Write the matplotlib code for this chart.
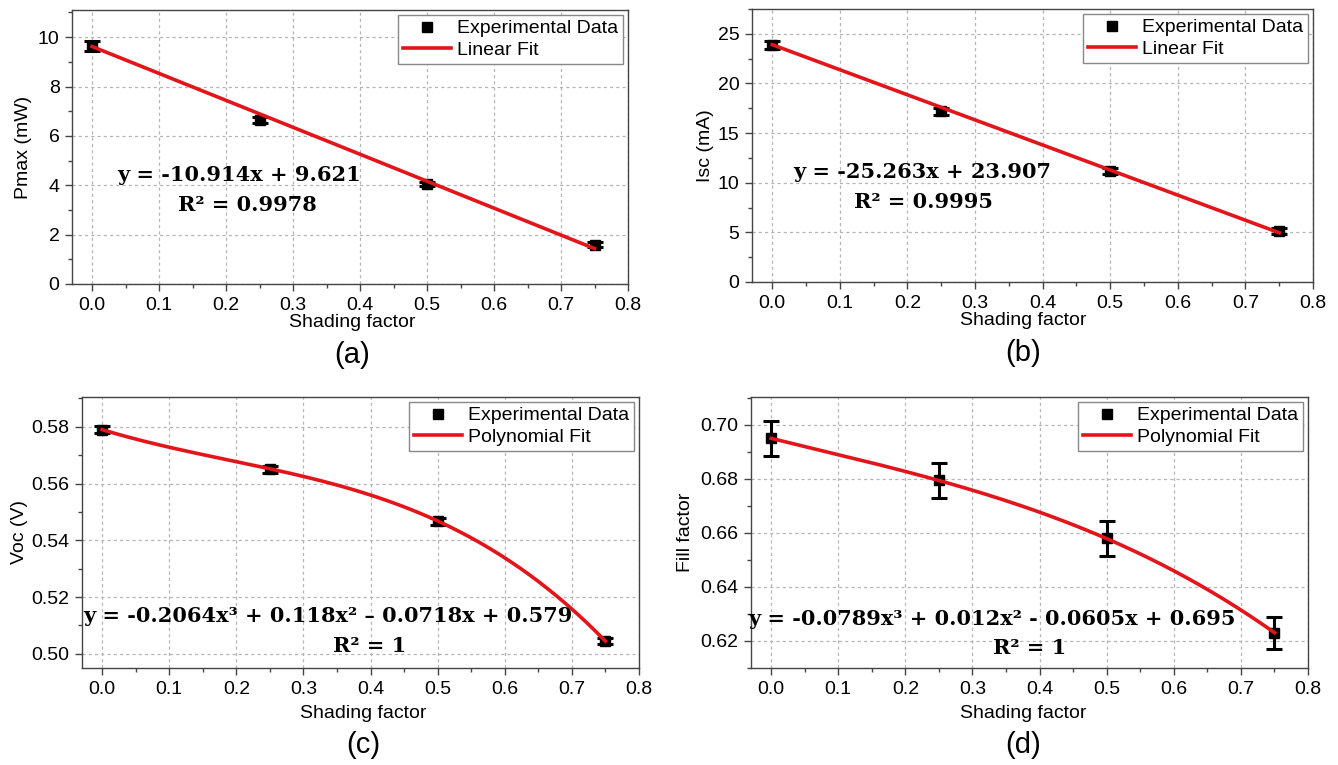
import numpy as np
import matplotlib
matplotlib.use("Agg")
import matplotlib.pyplot as plt
from matplotlib.ticker import MultipleLocator, AutoMinorLocator, FormatStrFormatter

plt.rcParams['font.family'] = ['Liberation Sans', 'DejaVu Sans']

# ---------------- data ----------------
shading = [0.0, 0.25, 0.5, 0.75]

pmax = [9.65, 6.65, 4.05, 1.60]
pmax_err = [0.20, 0.12, 0.10, 0.10]
pmax_fit = [-10.914, 9.621]          # slope, intercept

isc = [23.9, 17.2, 11.2, 5.1]
isc_err = [0.40, 0.35, 0.30, 0.30]
isc_fit = [-25.263, 23.907]

voc = [0.579, 0.565, 0.5467, 0.5045]
voc_err = [0.0012, 0.0012, 0.0012, 0.0011]
voc_fit = [-0.2064, 0.118, -0.0718, 0.579]   # x^3, x^2, x, const

ff = [0.695, 0.6795, 0.658, 0.623]
ff_err = [0.0065, 0.0065, 0.0065, 0.006]
ff_fit = [-0.0789, 0.012, -0.0605, 0.695]

ylabels = ['Pmax (mW)', 'Isc (mA)', 'Voc (V)', 'Fill factor']
fit_names = ['Linear Fit', 'Linear Fit', 'Polynomial Fit', 'Polynomial Fit']
eq_texts = [
    ("y = -10.914x + 9.621", "R\u00b2 = 0.9978"),
    ("y = -25.263x + 23.907", "R\u00b2 = 0.9995"),
    ("y = -0.2064x\u00b3 + 0.118x\u00b2 \u2013 0.0718x + 0.579", "R\u00b2 = 1"),
    ("y = -0.0789x\u00b3 + 0.012x\u00b2 - 0.0605x + 0.695", "R\u00b2 = 1"),
]
panel_tags = ['(a)', '(b)', '(c)', '(d)']

# ---------------- layout (pixels) ----------------
W, H = 1338, 765
fig = plt.figure(figsize=(W / 100, H / 100), dpi=100)

rects = [(72, 628, 10, 284), (752, 1313, 9, 282),
         (82, 639, 397, 668), (751, 1308, 397, 668)]
ylims = [(0, 11.1), (0, 27.5), (0.495, 0.5905), (0.61, 0.7103)]
ymajor = [2, 5, 0.02, 0.02]
eq_pos = [((239, 175), (247, 205)), ((922, 172), (924, 202)),
          ((328, 616), (370, 646)), ((992, 619), (1030, 648))]
xlabel_pos = [(352, 322), (1023, 320), (363, 713), (1023, 713)]
tag_pos = [(352, 355), (1023, 353), (363, 745), (1023, 745)]
ylabel_x = [24, 705, 20, 686]

datasets = [(pmax, pmax_err, pmax_fit), (isc, isc_err, isc_fit),
            (voc, voc_err, voc_fit), (ff, ff_err, ff_fit)]

red = '#e3151b'
spine_col = '#444444'
serif = ['DejaVu Serif', 'Liberation Serif']

for i, (vals, errs, coefs) in enumerate(datasets):
    l, r, t, b = rects[i]
    ax = fig.add_axes([l / W, 1 - b / H, (r - l) / W, (b - t) / H])

    ax.errorbar(shading, vals, yerr=errs, fmt='none', ecolor='black',
                elinewidth=2.2, capsize=5.5, capthick=2.2, zorder=3)
    ax.plot(shading, vals, 's', color='black', markersize=7,
            label='Experimental Data', zorder=4)
    xf = np.linspace(0, 0.75, 200)
    yf = np.polyval(coefs, xf)
    ax.plot(xf, yf, '-', color=red, lw=2.6, label=fit_names[i], zorder=5)

    ax.set_xlim(-0.03, 0.8)
    ax.set_ylim(*ylims[i])
    ax.xaxis.set_major_locator(MultipleLocator(0.1))
    ax.xaxis.set_minor_locator(AutoMinorLocator(2))
    ax.yaxis.set_major_locator(MultipleLocator(ymajor[i]))
    ax.yaxis.set_minor_locator(AutoMinorLocator(2))
    ax.yaxis.set_major_formatter(FormatStrFormatter('%d' if i < 2 else '%.2f'))
    ax.xaxis.set_major_formatter(FormatStrFormatter('%.1f'))

    ax.grid(True, which='major', linestyle=(0, (2.5, 2.5)), color='#b5b5b5', lw=0.9)
    ax.set_axisbelow(True)
    for s in ax.spines.values():
        s.set_color(spine_col)
        s.set_linewidth(1.0)
    ax.tick_params(axis='both', which='major', direction='out', length=5,
                   width=1, color=spine_col, labelsize=14, pad=4)
    ax.tick_params(axis='both', which='minor', direction='out', length=3,
                   width=1, color=spine_col)

    leg = ax.legend(loc='upper right', fontsize=14, frameon=True,
                    fancybox=False, framealpha=1, edgecolor='#888888',
                    borderaxespad=0.25, handlelength=2.5, handletextpad=0.3,
                    borderpad=0.25, labelspacing=0.2)
    leg.get_frame().set_linewidth(1.0)

    fig.text(xlabel_pos[i][0] / W, 1 - xlabel_pos[i][1] / H, 'Shading factor',
             ha='center', va='center', fontsize=14)
    fig.text(ylabel_x[i] / W, 1 - ((t + b) / 2) / H, ylabels[i],
             ha='center', va='center', rotation=90, fontsize=14)
    fig.text(tag_pos[i][0] / W, 1 - tag_pos[i][1] / H, panel_tags[i],
             ha='center', va='center', fontsize=21)

    (e1x, e1y), (e2x, e2y) = eq_pos[i]
    fig.text(e1x / W, 1 - e1y / H, eq_texts[i][0], ha='center', va='center',
             fontsize=15, fontweight='bold', family=serif)
    fig.text(e2x / W, 1 - e2y / H, eq_texts[i][1], ha='center', va='center',
             fontsize=15, fontweight='bold', family=serif)

fig.savefig('out.png', dpi=100)
